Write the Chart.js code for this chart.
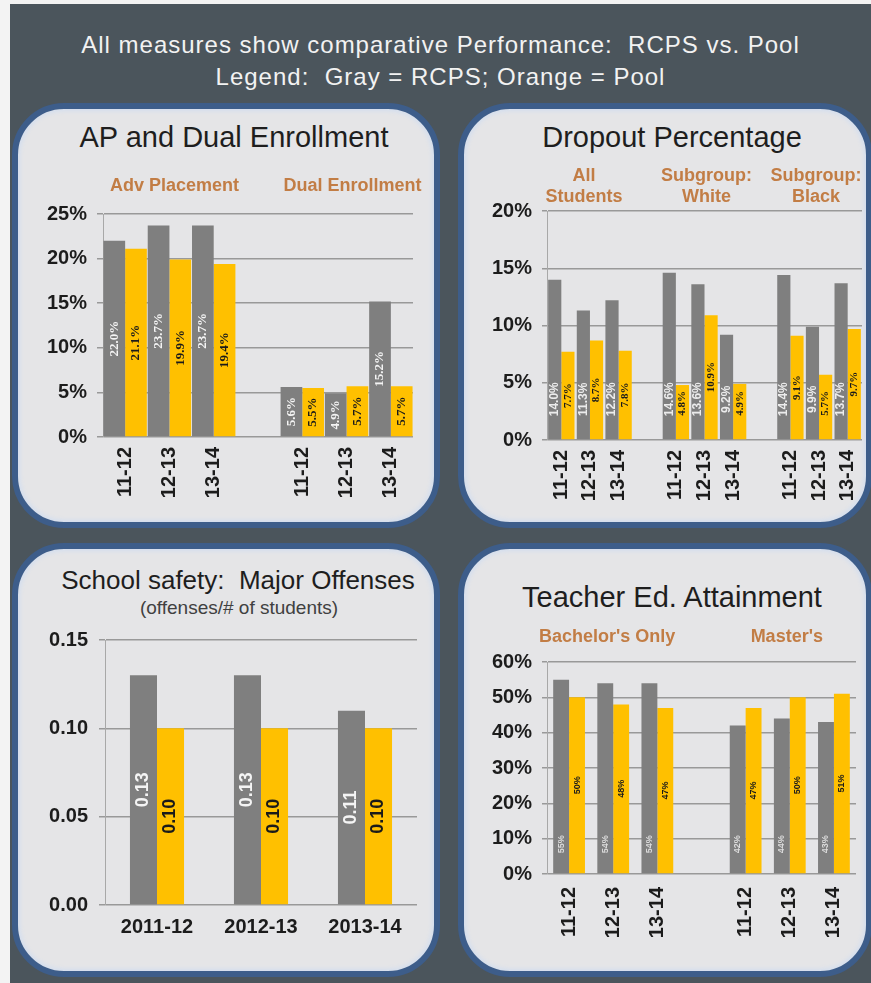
<!DOCTYPE html>
<html><head><meta charset="utf-8">
<script src="https://cdn.jsdelivr.net/npm/chart.js@4.4.1/dist/chart.umd.min.js"></script>
<style>
html,body{margin:0;padding:0;}
body{width:871px;height:983px;position:relative;overflow:hidden;background:#f3f3f3;font-family:"Liberation Sans",Arial,sans-serif;}
#bg{position:absolute;left:10px;top:4px;width:861px;height:979px;background:#4b555c;}
.hdr{position:absolute;left:10px;width:861px;text-align:center;color:#f2f2f2;font-size:24px;line-height:30px;letter-spacing:1px;white-space:nowrap;}
.panel{position:absolute;background:#e5e5e7;border:6px solid #3d5d8a;border-radius:52px;box-sizing:border-box;box-shadow:inset 0 0 4px 2px #d3deef;}
.title{position:absolute;text-align:center;color:#1e1e1e;font-size:29px;line-height:32px;white-space:nowrap;}
.sub{position:absolute;text-align:center;color:#404040;font-size:19px;line-height:22px;white-space:nowrap;}
canvas{position:absolute;}
</style>
</head>
<body>
<div id="bg"></div>
<div class="hdr" style="top:30px;">All measures show comparative Performance:&nbsp; RCPS vs. Pool</div>
<div class="hdr" style="top:62px;">Legend:&nbsp; Gray = RCPS; Orange = Pool</div>

<div class="panel" style="left:12px;top:103px;width:428px;height:425px;"></div>
<div class="panel" style="left:458px;top:103px;width:414px;height:425px;"></div>
<div class="panel" style="left:12px;top:543px;width:428px;height:434px;"></div>
<div class="panel" style="left:458px;top:543px;width:414px;height:434px;"></div>

<div class="title" style="left:34px;top:121px;width:400px;">AP and Dual Enrollment</div>
<div class="title" style="left:472px;top:121px;width:400px;">Dropout Percentage</div>
<div class="title" style="left:38px;top:565px;width:400px;font-size:26px;line-height:30px;">School safety:&nbsp; Major Offenses</div>
<div class="sub" style="left:39px;top:597px;width:400px;">(offenses/# of students)</div>
<div class="title" style="left:472px;top:581px;width:400px;">Teacher Ed. Attainment</div>

<canvas id="c1" width="414" height="340" style="left:14px;top:170px;"></canvas>
<canvas id="c2" width="406" height="352" style="left:465px;top:160px;"></canvas>
<canvas id="c3" width="416" height="330" style="left:14px;top:620px;"></canvas>
<canvas id="c4" width="406" height="330" style="left:465px;top:620px;"></canvas>

<script>
// ---------------- DATA ----------------
const apCategories = ['11-12', '12-13', '13-14', '', '11-12', '12-13', '13-14'];
const apRcps = [22.0, 23.7, 23.7, null, 5.6, 4.9, 15.2];
const apPool = [21.1, 19.9, 19.4, null, 5.5, 5.7, 5.7];
const apGroups = ['Adv Placement', 'Dual Enrollment'];
const apTicks = [0, 5, 10, 15, 20, 25];

const dropCategories = ['11-12', '12-13', '13-14', '', '11-12', '12-13', '13-14', '', '11-12', '12-13', '13-14'];
const dropRcps = [14.0, 11.3, 12.2, null, 14.6, 13.6, 9.2, null, 14.4, 9.9, 13.7];
const dropPool = [7.7, 8.7, 7.8, null, 4.8, 10.9, 4.9, null, 9.1, 5.7, 9.7];
const dropGroups = [['All', 'Students'], ['Subgroup:', 'White'], ['Subgroup:', 'Black']];
const dropTicks = [0, 5, 10, 15, 20];

const safetyCategories = ['2011-12', '2012-13', '2013-14'];
const safetyRcps = [0.13, 0.13, 0.11];
const safetyPool = [0.10, 0.10, 0.10];
const safetyTicks = [0, 0.05, 0.10, 0.15];

const teachCategories = ['11-12', '12-13', '13-14', '', '11-12', '12-13', '13-14'];
const teachRcps = [55, 54, 54, null, 42, 44, 43];
const teachPool = [50, 48, 47, null, 47, 50, 51];
const teachGroups = ["Bachelor's Only", "Master's"];
const teachTicks = [0, 10, 20, 30, 40, 50, 60];

// ---------------- STYLE ----------------
const GRAY = '#7f7f7f';
const GOLD = '#ffc000';
const FONT = '"Liberation Sans", Arial, sans-serif';
const TICK_COLOR = '#1c1c1c';
const GROUP_COLOR = '#c27d45';
Chart.defaults.font.family = FONT;

function barLabelsPlugin(sets) {
  return {
    id: 'barLabels',
    afterDatasetsDraw(chart) {
      const ctx = chart.ctx;
      chart.data.datasets.forEach((ds, i) => {
        const s = sets[i];
        const meta = chart.getDatasetMeta(i);
        meta.data.forEach((bar, j) => {
          const v = ds.data[j];
          if (v === null || v === undefined) return;
          const p = bar.getProps(['x', 'y', 'base'], true);
          let y = (s.baseOffset != null) ? p.base - s.baseOffset : (p.y + p.base) / 2;
          if (s.minOffset != null) y = Math.min(y, p.base - s.minOffset);
          ctx.save();
          ctx.translate(p.x + (s.dx || 0), y);
          ctx.rotate(-Math.PI / 2);
          ctx.font = s.font;
          ctx.fillStyle = s.color;
          ctx.textAlign = 'center';
          ctx.textBaseline = 'middle';
          ctx.fillText(v.toFixed(s.decimals) + s.suffix, 0, 0);
          ctx.restore();
        });
      });
    }
  };
}

function groupLabelsPlugin(groups, cfg) {
  return {
    id: 'groupLabels',
    afterDraw(chart) {
      const xs = chart.scales.x;
      const labels = chart.data.labels;
      const runs = [];
      let start = null;
      labels.forEach((l, i) => {
        if (l !== '' && start === null) start = i;
        if (start !== null && (l === '' || i === labels.length - 1)) {
          runs.push([start, l === '' ? i - 1 : i]);
          start = null;
        }
      });
      const ctx = chart.ctx;
      ctx.save();
      ctx.font = 'bold 18px ' + FONT;
      ctx.fillStyle = GROUP_COLOR;
      ctx.textAlign = 'center';
      ctx.textBaseline = 'middle';
      runs.forEach((r, g) => {
        if (!groups[g]) return;
        const cx = (xs.getPixelForValue(r[0]) + xs.getPixelForValue(r[1])) / 2 + (cfg.dx ? cfg.dx[g] : 0);
        [].concat(groups[g]).forEach((t, k) => {
          ctx.fillText(t, cx, chart.chartArea.top - cfg.offset + k * cfg.lineHeight);
        });
      });
      ctx.restore();
    }
  };
}

function makeChart(id, o) {
  const plugins = [barLabelsPlugin(o.labelSets)];
  if (o.groups) plugins.push(groupLabelsPlugin(o.groups, o.groupCfg));
  return new Chart(document.getElementById(id), {
    type: 'bar',
    data: {
      labels: o.categories,
      datasets: [
        { label: 'RCPS', data: o.rcps, backgroundColor: GRAY, borderWidth: 0,
          categoryPercentage: o.catPct, barPercentage: 1.0 },
        { label: 'Pool', data: o.pool, backgroundColor: GOLD, borderWidth: 0,
          categoryPercentage: o.catPct, barPercentage: 1.0 }
      ]
    },
    options: {
      responsive: false,
      animation: false,
      devicePixelRatio: 1,
      layout: { padding: { top: o.padTop, right: o.padRight, left: 0, bottom: 0 } },
      plugins: { legend: { display: false }, tooltip: { enabled: false }, title: { display: false } },
      scales: {
        x: {
          grid: { display: false, drawTicks: false },
          border: { display: false },
          ticks: {
            font: { family: FONT, size: 20, weight: 'bold' },
            color: TICK_COLOR,
            padding: o.xPad,
            minRotation: o.xRot,
            maxRotation: o.xRot,
            autoSkip: false
          },
          afterFit(s) { s.height = o.H; s.paddingLeft = 0; s.paddingRight = 0; }
        },
        y: {
          min: o.ticks[0],
          max: o.ticks[o.ticks.length - 1],
          afterBuildTicks(s) { s.ticks = o.ticks.map(v => ({ value: v })); },
          grid: { color: '#999999', lineWidth: 1.5, drawTicks: true, tickLength: o.tl, tickColor: '#999999' },
          border: { display: true, color: '#a8a8a8', width: 1 },
          ticks: {
            font: { family: FONT, size: 20, weight: 'bold' },
            color: TICK_COLOR,
            padding: o.yPad,
            callback: o.fmt
          },
          afterFit(s) { s.width = o.W; s.paddingTop = 0; s.paddingBottom = 0; }
        }
      }
    },
    plugins: plugins
  });
}

const pct = v => v + '%';

makeChart('c1', {
  categories: apCategories, rcps: apRcps, pool: apPool, ticks: apTicks, fmt: pct,
  catPct: 0.98, W: 89, H: 73, padTop: 44, padRight: 15, tl: 6, yPad: 10, xPad: 10, xRot: 90,
  groups: apGroups, groupCfg: { offset: 28, lineHeight: 21, dx: [5, 6] },
  labelSets: [
    { font: 'bold 13px "Liberation Serif", serif', color: '#f4f4f4', decimals: 1, suffix: '%' },
    { font: 'bold 13px "Liberation Serif", serif', color: '#1a1a1a', decimals: 1, suffix: '%' }
  ]
});

makeChart('c2', {
  categories: dropCategories, rcps: dropRcps, pool: dropPool, ticks: dropTicks, fmt: pct,
  catPct: 0.92, W: 82, H: 72, padTop: 51, padRight: 9, tl: 5, yPad: 10, xPad: 10, xRot: 90,
  groups: dropGroups, groupCfg: { offset: 35, lineHeight: 21, dx: [-6, 2, -3] },
  labelSets: [
    { font: 'bold 12px "Liberation Sans", sans-serif', color: '#ececec', decimals: 1, suffix: '%', baseOffset: 40 },
    { font: 'bold 11px "Liberation Serif", serif', color: '#1a1a1a', decimals: 1, suffix: '%', minOffset: 36 }
  ]
});

makeChart('c3', {
  categories: safetyCategories, rcps: safetyRcps, pool: safetyPool, ticks: safetyTicks,
  fmt: v => v.toFixed(2),
  catPct: 0.52, W: 91, H: 45, padTop: 20, padRight: 13, tl: 6, yPad: 11, xPad: 10, xRot: 0,
  labelSets: [
    { font: 'bold 18px "Liberation Sans", sans-serif', color: '#f4f4f4', decimals: 2, suffix: '' },
    { font: 'bold 18px "Liberation Sans", sans-serif', color: '#1a1a1a', decimals: 2, suffix: '' }
  ]
});

makeChart('c4', {
  categories: teachCategories, rcps: teachRcps, pool: teachPool, ticks: teachTicks, fmt: pct,
  catPct: 0.72, W: 82, H: 76, padTop: 42, padRight: 15, tl: 5, yPad: 10, xPad: 13, xRot: 90,
  groups: teachGroups, groupCfg: { offset: 25, lineHeight: 21, dx: [-6, -3] },
  labelSets: [
    { font: 'bold 9px "Liberation Sans", sans-serif', color: '#dcdcdc', decimals: 0, suffix: '%', baseOffset: 29 },
    { font: 'bold 9px "Liberation Sans", sans-serif', color: '#1a1a1a', decimals: 0, suffix: '%' }
  ]
});
</script>
</body></html>
